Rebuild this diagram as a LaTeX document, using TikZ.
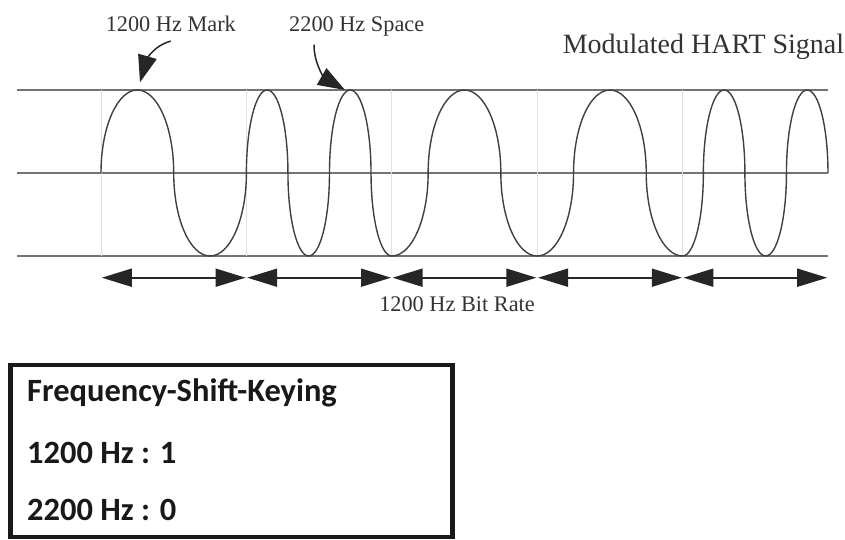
\documentclass[tikz,border=0pt]{standalone}
\usepackage{fontspec}
\usetikzlibrary{arrows.meta}
\newfontfamily\timesfont{Liberation Serif}
\newfontfamily\keyfont{Carlito}
\begin{document}
\begin{tikzpicture}[x=1pt,y=1pt,
  hline/.style={line width=2pt, black!55},
  wave/.style={line width=1.4pt, black!75},
  bitline/.style={line width=0.8pt, black!12},
  bitarrow/.style={{Triangle[length=30pt,width=18pt]}-{Triangle[length=30pt,width=18pt]}, line width=1.8pt, black!85, shorten <=0.8pt, shorten >=0.8pt},
  callout/.style={-{Triangle[length=27pt,width=19pt]}, line width=1.5pt, black!85},
  lbl/.style={font=\timesfont\fontsize{22.3}{26}\selectfont, text=black!80, inner sep=2pt},
  keytext/.style={font=\keyfont\bfseries\fontsize{32.5}{36}\selectfont, text=black!90, inner sep=0pt, anchor=base west}]
 \useasboundingbox (0,0) rectangle (845,539);
 \draw[hline] (17,449) -- (828,449);
 \draw[hline] (17,366) -- (828,366);
 \draw[hline] (17,283) -- (828,283);
 \draw[bitline] (101,283) -- (101,449);
 \draw[bitline] (246.4,283) -- (246.4,449);
 \draw[bitline] (391.8,283) -- (391.8,449);
 \draw[bitline] (537.2,283) -- (537.2,449);
 \draw[bitline] (682.6,283) -- (682.6,449);
 \draw[wave] (101,366)
  arc[start angle=180, end angle=0, x radius=36.35, y radius=83]
  arc[start angle=180, end angle=360, x radius=36.35, y radius=83]
  arc[start angle=180, end angle=0, x radius=20.77, y radius=83]
  arc[start angle=180, end angle=360, x radius=20.77, y radius=83]
  arc[start angle=180, end angle=0, x radius=20.77, y radius=83]
  arc[start angle=180, end angle=270, x radius=20.77, y radius=83]
  arc[start angle=270, end angle=360, x radius=36.35, y radius=83]
  arc[start angle=180, end angle=0, x radius=36.35, y radius=83]
  arc[start angle=180, end angle=270, x radius=36.35, y radius=83]
  arc[start angle=270, end angle=360, x radius=36.35, y radius=83]
  arc[start angle=180, end angle=0, x radius=36.35, y radius=83]
  arc[start angle=180, end angle=270, x radius=36.35, y radius=83]
  arc[start angle=270, end angle=360, x radius=20.77, y radius=83]
  arc[start angle=180, end angle=0, x radius=20.77, y radius=83]
  arc[start angle=180, end angle=360, x radius=20.77, y radius=83]
  arc[start angle=180, end angle=0, x radius=20.77, y radius=83];
 \coordinate (b0) at (101,261.3);
 \coordinate (b1) at (246.4,261.3);
 \coordinate (b2) at (391.8,261.3);
 \coordinate (b3) at (537.2,261.3);
 \coordinate (b4) at (682.6,261.3);
 \coordinate (b5) at (828,261.3);
 \draw[bitarrow] (b0) -- (b1);
 \draw[bitarrow] (b1) -- (b2);
 \draw[bitarrow] (b2) -- (b3);
 \draw[bitarrow] (b3) -- (b4);
 \draw[bitarrow] (b4) -- (b5);
 \node[lbl, anchor=base] (rate) at (457,227.3) {1200 Hz Bit Rate};
 \node[lbl, anchor=base] (mark) at (170.8,507.3) {1200 Hz Mark};
 \node[lbl, anchor=base] (space) at (356.7,507.3) {2200 Hz Space};
 \node[lbl, anchor=base, font=\timesfont\fontsize{28}{32}\selectfont] (title) at (703.5,485) {Modulated HART Signal};
 \coordinate (markpeak) at (140,456.7);
 \coordinate (spacepeak) at (345,449);
 \draw[callout] ([yshift=-7pt]mark.south) to[out=195, in=74] (markpeak);
 \draw[callout] ([xshift=27pt,yshift=-6pt]space.south west) to[out=270, in=150] (spacepeak);
 \node[draw, line width=4.5pt, black!90, minimum width=442pt, minimum height=172pt, inner sep=0pt] (keybox) at (231.5,88) {};
 \node[keytext] (fsk) at (27,137.3) {Frequency-Shift-Keying};
 \node[keytext] (one) at (27,75.7) {1200 Hz : 1};
 \node[keytext] (zero) at (27,18.3) {2200 Hz : 0};
\end{tikzpicture}
\end{document}
